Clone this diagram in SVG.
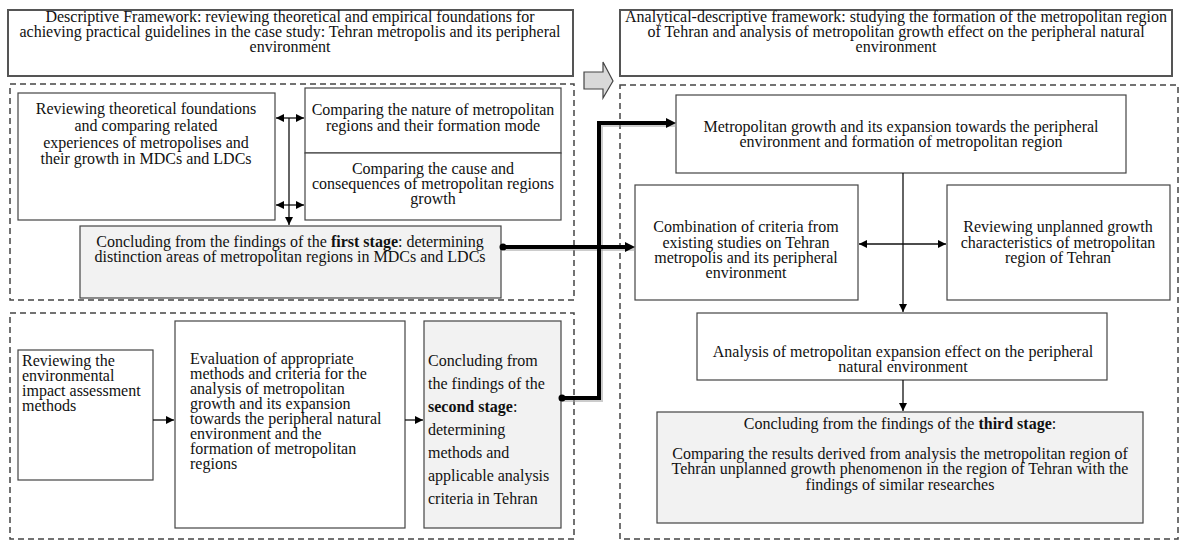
<svg xmlns="http://www.w3.org/2000/svg" width="1180" height="541" viewBox="0 0 1180 541">
<defs>
<style>
.t{font-family:"Liberation Serif","Times New Roman",serif;font-size:16px;fill:#111;}
.m{text-anchor:middle;}
.b{fill:#fff;stroke:#444;stroke-width:1.2;}
.g{fill:#f2f2f2;stroke:#444;stroke-width:1.2;}
.h{fill:#fff;stroke:#555;stroke-width:2;}
.d{fill:none;stroke:#444;stroke-width:1.5;stroke-dasharray:6 4;}
.c{fill:none;stroke:#111;stroke-width:1.3;}
.k{fill:none;stroke:#000;stroke-width:4;}
</style>
<marker id="a" viewBox="0 0 10 10" refX="10" refY="5" markerWidth="8" markerHeight="8" markerUnits="userSpaceOnUse" orient="auto-start-reverse"><path d="M0,0 L10,5 L0,10 z" fill="#000"/></marker>
</defs>
<rect width="1180" height="541" fill="#fff"/>

<g id="frames">
<rect class="d" x="10" y="84" width="564" height="216"/>
<rect class="d" x="10" y="313" width="564" height="226"/>
<rect class="d" x="620" y="85" width="558" height="454"/>
</g>

<g id="top-left">
<rect class="h" x="8" y="10" width="565" height="66"/>
<text class="t m" x="290" y="22">Descriptive Framework: reviewing theoretical and empirical foundations for</text>
<text class="t m" x="290" y="37">achieving practical guidelines in the case study: Tehran metropolis and its peripheral</text>
<text class="t m" x="290" y="52">environment</text>
</g>

<g id="top-right">
<rect class="h" x="620" y="10" width="552" height="66"/>
<text class="t m" x="896" y="22">Analytical-descriptive framework: studying the formation of the metropolitan region</text>
<text class="t m" x="896" y="37">of Tehran and analysis of metropolitan growth effect on the peripheral natural</text>
<text class="t m" x="896" y="52">environment</text>
</g>

<g id="block-arrow">
<path d="M584,72 L603,72 L603,62 L613,81 L603,98 L603,89 L584,89 Z" fill="#d9d9d9" stroke="#444" stroke-width="1.2"/>
</g>

<g id="n1">
<rect class="b" x="18" y="93" width="257" height="127"/>
<text class="t m" x="146" y="114">Reviewing theoretical foundations</text>
<text class="t m" x="146" y="131">and comparing related</text>
<text class="t m" x="146" y="148">experiences of metropolises and</text>
<text class="t m" x="146" y="164">their growth in MDCs and LDCs</text>
</g>

<g id="n2">
<rect class="b" x="305" y="88" width="256" height="65"/>
<text class="t m" x="433" y="115">Comparing the nature of metropolitan</text>
<text class="t m" x="433" y="131">regions and their formation mode</text>
</g>

<g id="n3">
<rect class="b" x="305" y="153" width="256" height="67"/>
<text class="t m" x="433" y="174">Comparing the cause and</text>
<text class="t m" x="433" y="189">consequences of metropolitan regions</text>
<text class="t m" x="433" y="204">growth</text>
</g>

<g id="n4">
<rect class="g" x="80" y="226" width="421" height="72"/>
<text class="t m" x="290" y="247">Concluding from the findings of the <tspan font-weight="bold">first stage</tspan>: determining</text>
<text class="t m" x="290" y="262">distinction areas of metropolitan regions in MDCs and LDCs</text>
</g>

<g id="n5">
<rect class="b" x="18" y="350" width="135" height="130"/>
<text class="t" x="22" y="366">Reviewing the</text>
<text class="t" x="22" y="381">environmental</text>
<text class="t" x="22" y="396">impact assessment</text>
<text class="t" x="22" y="411">methods</text>
</g>

<g id="n6">
<rect class="b" x="175" y="321" width="230" height="207"/>
<text class="t" x="190" y="364">Evaluation of appropriate</text>
<text class="t" x="190" y="379">methods and criteria for the</text>
<text class="t" x="190" y="394">analysis of metropolitan</text>
<text class="t" x="190" y="409">growth and its expansion</text>
<text class="t" x="190" y="424">towards the peripheral natural</text>
<text class="t" x="190" y="439">environment and the</text>
<text class="t" x="190" y="454">formation of metropolitan</text>
<text class="t" x="190" y="469">regions</text>
</g>

<g id="n7">
<rect class="g" x="424" y="321" width="137" height="207"/>
<text class="t" x="428" y="366">Concluding from</text>
<text class="t" x="428" y="389">the findings of the</text>
<text class="t" x="428" y="412"><tspan font-weight="bold">second stage</tspan>:</text>
<text class="t" x="428" y="435">determining</text>
<text class="t" x="428" y="458">methods and</text>
<text class="t" x="428" y="481">applicable analysis</text>
<text class="t" x="428" y="504">criteria in Tehran</text>
</g>

<g id="n8">
<rect class="b" x="676" y="95" width="450" height="78"/>
<text class="t m" x="901" y="132">Metropolitan growth and its expansion towards the peripheral</text>
<text class="t m" x="901" y="147">environment and formation of metropolitan region</text>
</g>

<g id="n9">
<rect class="b" x="635" y="185" width="223" height="115"/>
<text class="t m" x="746" y="232">Combination of criteria from</text>
<text class="t m" x="746" y="248">existing studies on Tehran</text>
<text class="t m" x="746" y="263">metropolis and its peripheral</text>
<text class="t m" x="746" y="278">environment</text>
</g>

<g id="n10">
<rect class="b" x="947" y="185" width="223" height="115"/>
<text class="t m" x="1058" y="232">Reviewing unplanned growth</text>
<text class="t m" x="1058" y="248">characteristics of metropolitan</text>
<text class="t m" x="1058" y="263">region of Tehran</text>
</g>

<g id="n11">
<rect class="b" x="697" y="313" width="410" height="67"/>
<text class="t m" x="903" y="357">Analysis of metropolitan expansion effect on the peripheral</text>
<text class="t m" x="903" y="372">natural environment</text>
</g>

<g id="n12">
<rect class="g" x="657" y="412" width="486" height="111" stroke-width="2"/>
<text class="t m" x="900" y="429">Concluding from the findings of the <tspan font-weight="bold">third stage</tspan>:</text>
<text class="t m" x="900" y="459">Comparing the results derived from analysis the metropolitan region of</text>
<text class="t m" x="900" y="474">Tehran unplanned growth phenomenon in the region of Tehran with the</text>
<text class="t m" x="900" y="490">findings of similar researches</text>
</g>

<g id="connectors">
<line class="c" x1="276" y1="118" x2="304" y2="118" marker-start="url(#a)" marker-end="url(#a)"/>
<line class="c" x1="276" y1="205" x2="304" y2="205" marker-start="url(#a)" marker-end="url(#a)"/>
<line class="c" x1="289" y1="118" x2="289" y2="225" marker-end="url(#a)"/>
<line class="c" x1="153" y1="420" x2="174" y2="420" marker-end="url(#a)"/>
<line class="c" x1="405" y1="420" x2="423" y2="420" marker-end="url(#a)"/>
<line class="c" x1="903" y1="173" x2="903" y2="312" marker-end="url(#a)"/>
<line class="c" x1="859" y1="244" x2="946" y2="244" marker-start="url(#a)" marker-end="url(#a)"/>
<line class="c" x1="903" y1="380" x2="903" y2="411" marker-end="url(#a)"/>
<polyline points="562,400 601,400 601,125 677,125" fill="none" stroke="#999" stroke-width="4" opacity="0.5"/>
<polyline points="504,249 636,249" fill="none" stroke="#999" stroke-width="4" opacity="0.5"/>
<polyline class="k" points="562,398 599,398 599,123 668,123"/>
<path d="M666,118 L676,123 L666,128 Z" fill="#000"/>
<line class="k" x1="503" y1="247" x2="627" y2="247"/>
<path d="M625,242 L635,247 L625,252 Z" fill="#000"/>
<circle cx="503" cy="247" r="3.5" fill="#000"/>
<circle cx="562" cy="398" r="3.5" fill="#000"/>
</g>
</svg>
